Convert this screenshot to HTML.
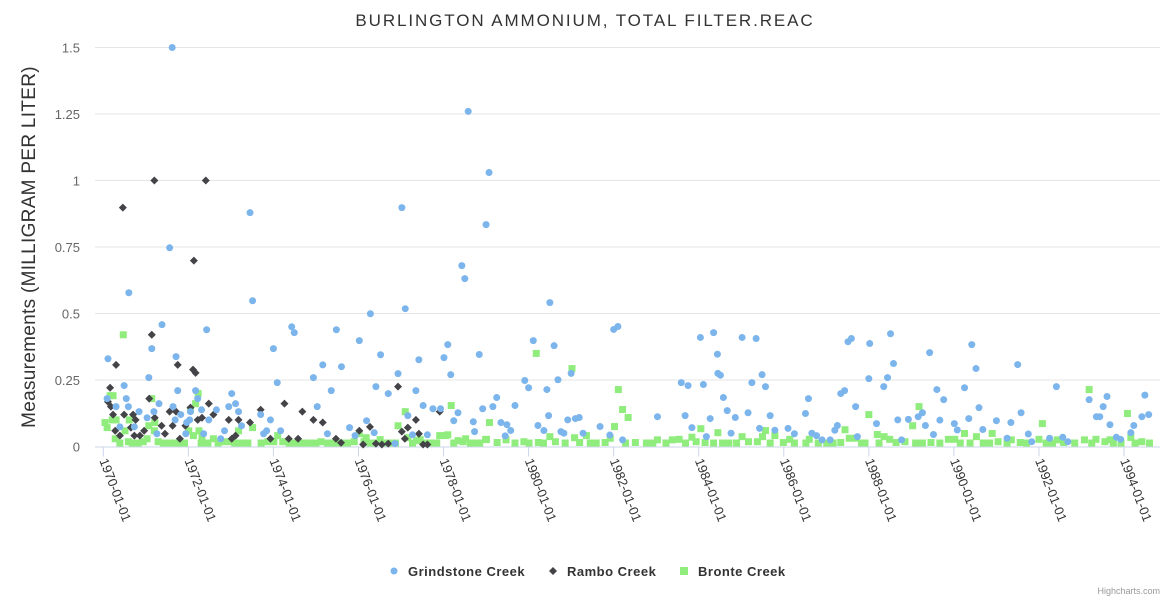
<!DOCTYPE html>
<html><head><meta charset="utf-8"><style>
html,body{margin:0;padding:0;background:#fff;}
svg{display:block;font-family:"Liberation Sans","DejaVu Sans",sans-serif;}
</style></head><body>
<svg id="chart" width="1170" height="600" viewBox="0 0 1170 600">
<text x="585" y="26" text-anchor="middle" font-size="17" letter-spacing="1.9" fill="#333">BURLINGTON AMMONIUM, TOTAL FILTER.REAC</text>
<text transform="translate(35,247) rotate(-90)" text-anchor="middle" font-size="19" letter-spacing="0.3" fill="#333">Measurements (MILLIGRAM PER LITER)</text>
<g id="grid"></g>
<g id="yticks"></g>
<g id="xaxis"></g>
<g id="marks"></g>
<g>
 <g><circle cx="394" cy="571" r="3.5" fill="#7cb5ec"/><text x="408" y="576" font-size="13" font-weight="bold" letter-spacing="0.5" fill="#333">Grindstone Creek</text></g>
 <g><path d="M553 567 L557 571 L553 575 L549 571 Z" fill="#434348"/><text x="567" y="576" font-size="13" font-weight="bold" letter-spacing="0.5" fill="#333">Rambo Creek</text></g>
 <g><rect x="680" y="567" width="8" height="8" fill="#90ed7d"/><text x="698" y="576" font-size="13" font-weight="bold" letter-spacing="0.5" fill="#333">Bronte Creek</text></g>
</g>
<text x="1160" y="594" text-anchor="end" font-size="9" fill="#999">Highcharts.com</text>
</svg>
<script>
const yTicks=[0,0.25,0.5,0.75,1,1.25,1.5];
const yTickLabels=["0","0.25","0.5","0.75","1","1.25","1.5"];
const xTicks=[1970,1972,1974,1976,1978,1980,1982,1984,1986,1988,1990,1992,1994];
const xTickLabels=["1970-01-01","1972-01-01","1974-01-01","1976-01-01","1978-01-01","1980-01-01","1982-01-01","1984-01-01","1986-01-01","1988-01-01","1990-01-01","1992-01-01","1994-01-01"];

const grindYears=[1970.11,1970.09,1970.3,1970.49,1970.54,1970.6,1970.59,1970.39,1970.73,1970.84,1971.03,1971.07,1971.14,1971.19,1971.31,1971.38,1971.26,1971.56,1971.62,1971.64,1971.69,1971.71,1971.75,1971.82,1971.94,1971.96,1972.03,1972.05,1972.17,1972.22,1972.31,1972.36,1972.43,1972.48,1972.66,1972.76,1972.85,1972.95,1973.02,1973.11,1973.18,1973.25,1973.45,1973.51,1973.7,1973.77,1973.84,1973.93,1974.0,1974.09,1974.17,1974.43,1974.49,1974.94,1975.03,1975.16,1975.27,1975.36,1975.48,1975.6,1975.79,1975.92,1976.02,1976.19,1976.28,1976.37,1976.41,1976.52,1976.7,1976.86,1976.93,1977.02,1977.1,1977.16,1977.27,1977.35,1977.42,1977.52,1977.62,1977.75,1977.93,1978.01,1978.1,1978.17,1978.24,1978.34,1978.43,1978.5,1978.58,1978.7,1978.73,1978.84,1978.92,1979.0,1979.07,1979.16,1979.25,1979.35,1979.49,1979.58,1979.45,1979.68,1979.91,1980.0,1980.11,1980.22,1980.36,1980.43,1980.47,1980.5,1980.6,1980.69,1980.76,1980.83,1980.92,1981.0,1981.1,1981.19,1981.28,1981.68,1981.91,1982.0,1982.1,1982.21,1983.03,1983.59,1983.68,1983.75,1983.84,1984.04,1984.11,1984.18,1984.27,1984.35,1984.44,1984.45,1984.51,1984.58,1984.67,1984.76,1984.86,1985.02,1985.16,1985.25,1985.35,1985.43,1985.49,1985.57,1985.68,1985.79,1986.1,1986.25,1986.51,1986.58,1986.66,1986.77,1986.9,1987.09,1987.2,1987.26,1987.34,1987.43,1987.51,1987.59,1987.69,1987.73,1988.0,1988.02,1988.18,1988.35,1988.44,1988.51,1988.58,1988.68,1988.77,1988.93,1989.16,1989.26,1989.33,1989.43,1989.52,1989.6,1989.67,1989.76,1990.01,1990.08,1990.25,1990.35,1990.42,1990.52,1990.59,1990.68,1991.0,1991.25,1991.34,1991.5,1991.58,1991.75,1991.83,1992.25,1992.41,1992.56,1992.68,1993.18,1993.35,1993.43,1993.51,1993.6,1993.67,1993.82,1993.92,1994.16,1994.23,1994.42,1994.49,1994.58];
const grindValues=[0.33,0.18,0.15,0.229,0.18,0.578,0.15,0.074,0.074,0.131,0.108,0.259,0.368,0.131,0.161,0.458,0.048,0.747,1.5,0.15,0.1,0.338,0.21,0.12,0.048,0.09,0.1,0.131,0.21,0.18,0.138,0.048,0.439,0.1,0.138,0.029,0.059,0.15,0.199,0.161,0.131,0.078,0.879,0.548,0.12,0.048,0.059,0.1,0.368,0.24,0.059,0.45,0.428,0.259,0.15,0.307,0.048,0.21,0.439,0.3,0.071,0.041,0.398,0.097,0.499,0.052,0.225,0.345,0.199,0.011,0.274,0.898,0.518,0.116,0.044,0.21,0.326,0.154,0.044,0.142,0.142,0.334,0.383,0.27,0.097,0.127,0.68,0.631,1.26,0.093,0.056,0.346,0.142,0.834,1.03,0.15,0.184,0.09,0.082,0.06,0.04,0.154,0.248,0.221,0.398,0.079,0.06,0.214,0.116,0.541,0.379,0.251,0.056,0.05,0.1,0.275,0.105,0.109,0.05,0.075,0.043,0.44,0.451,0.025,0.112,0.24,0.116,0.229,0.071,0.41,0.233,0.037,0.105,0.428,0.347,0.275,0.268,0.184,0.135,0.05,0.109,0.41,0.127,0.24,0.406,0.068,0.27,0.225,0.116,0.061,0.068,0.048,0.124,0.18,0.05,0.041,0.025,0.025,0.061,0.079,0.199,0.21,0.394,0.406,0.15,0.037,0.255,0.387,0.086,0.225,0.259,0.424,0.312,0.1,0.025,0.102,0.112,0.127,0.079,0.353,0.045,0.214,0.099,0.176,0.086,0.062,0.221,0.105,0.383,0.293,0.146,0.064,0.097,0.031,0.09,0.308,0.127,0.047,0.018,0.031,0.225,0.035,0.018,0.176,0.112,0.112,0.15,0.188,0.082,0.035,0.027,0.052,0.079,0.112,0.193,0.12];

const ramboYears=[1970.46,1971.2,1972.41,1972.13,1971.14,1970.3,1970.16,1970.11,1970.18,1970.23,1970.28,1970.39,1970.49,1970.65,1970.7,1970.76,1970.73,1970.86,1970.96,1971.08,1971.21,1971.37,1971.45,1971.56,1971.71,1971.75,1971.63,1971.8,1971.93,1972.11,1972.17,1972.05,1972.22,1972.32,1972.48,1972.59,1972.95,1973.02,1973.11,1973.18,1973.45,1973.7,1973.93,1974.26,1974.36,1974.58,1974.68,1974.94,1975.16,1975.47,1975.59,1976.02,1976.11,1976.27,1976.41,1976.55,1976.7,1976.93,1977.02,1977.16,1977.09,1977.35,1977.42,1977.52,1977.62,1977.91];
const ramboValues=[0.898,1.0,1.0,0.699,0.42,0.307,0.221,0.168,0.15,0.12,0.059,0.041,0.12,0.071,0.12,0.1,0.041,0.041,0.059,0.18,0.108,0.078,0.048,0.131,0.131,0.307,0.078,0.029,0.078,0.289,0.277,0.146,0.1,0.108,0.161,0.12,0.1,0.029,0.041,0.1,0.09,0.138,0.029,0.161,0.029,0.029,0.131,0.1,0.09,0.029,0.014,0.059,0.003,0.074,0.011,0.003,0.011,0.225,0.056,0.071,0.029,0.1,0.048,0.003,0.003,0.131];

const bronteYears=[1970.47,1970.04,1970.09,1970.16,1970.23,1970.21,1970.3,1970.28,1970.39,1970.51,1970.61,1970.59,1970.68,1970.82,1970.94,1971.03,1971.07,1971.14,1971.2,1971.21,1971.29,1971.41,1971.52,1971.64,1971.76,1971.91,1972.01,1972.05,1972.17,1972.23,1972.12,1972.25,1972.32,1972.3,1972.46,1972.59,1972.7,1972.81,1972.97,1973.09,1973.18,1973.24,1973.4,1973.51,1973.71,1973.87,1974.01,1974.1,1974.22,1974.37,1974.53,1974.69,1974.84,1975.0,1975.12,1975.27,1975.43,1975.59,1975.74,1975.9,1976.02,1976.13,1976.18,1976.27,1976.38,1976.51,1976.6,1976.76,1976.87,1976.93,1977.1,1977.16,1977.27,1977.37,1977.45,1977.54,1977.7,1977.84,1977.91,1978.05,1978.1,1978.18,1978.24,1978.34,1978.46,1978.52,1978.63,1978.73,1978.85,1978.99,
1979.08,1980.18,1981.02,1982.11,1982.21,1982.34,1982.02,1984.05,1985.57,1987.44,1988.0,1988.2,1989.18,1989.03,1990.25,1990.9,1992.08,1993.18,1994.08,1994.16,
1979.01,1979.26,1979.47,1979.68,1979.89,1980.01,1980.23,1980.35,1980.5,1980.63,1980.86,1981.08,1981.2,1981.36,1981.45,1981.59,1981.8,1981.92,1982.28,1982.51,1982.77,1982.92,1983.03,1983.23,1983.38,1983.54,1983.69,1983.84,1983.94,1984.15,1984.35,1984.45,1984.56,1984.71,1984.89,1985.02,1985.17,1985.38,1985.5,1985.68,1985.79,1985.99,1986.14,1986.25,1986.52,1986.6,1986.81,1987.01,1987.16,1987.34,1987.54,1987.69,1987.83,1987.91,1988.24,1988.36,1988.49,1988.64,1988.85,1989.1,1989.26,1989.46,1989.67,1989.87,1990.02,1990.15,1990.38,1990.53,1990.69,1990.84,1991.04,1991.25,1991.35,1991.56,1991.71,1992.0,1992.17,1992.32,1992.43,1992.58,1992.84,1993.07,1993.24,1993.34,1993.55,1993.67,1993.75,1993.93,1994.26,1994.42,1994.6];
const bronteValues=[0.42,0.09,0.071,0.191,0.191,0.1,0.1,0.029,0.011,0.059,0.1,0.018,0.011,0.011,0.018,0.029,0.078,0.18,0.059,0.09,0.018,0.011,0.011,0.011,0.011,0.011,0.059,0.138,0.161,0.199,0.041,0.059,0.037,0.011,0.011,0.029,0.011,0.018,0.018,0.011,0.059,0.011,0.011,0.071,0.011,0.018,0.018,0.041,0.018,0.011,0.011,0.011,0.011,0.011,0.018,0.011,0.011,0.011,0.011,0.018,0.048,0.018,0.033,0.003,0.011,0.026,0.003,0.003,0.003,0.078,0.131,0.033,0.007,0.022,0.026,0.011,0.011,0.011,0.041,0.041,0.044,0.154,0.007,0.022,0.018,0.029,0.011,0.003,0.011,0.026,
0.09,0.35,0.293,0.214,0.139,0.109,0.075,0.067,0.06,0.063,0.12,0.045,0.15,0.078,0.049,0.049,0.086,0.214,0.124,0.034,
0.027,0.015,0.025,0.003,0.018,0.012,0.015,0.012,0.037,0.018,0.01,0.033,0.015,0.041,0.003,0.012,0.015,0.031,0.003,0.015,0.012,0.003,0.025,0.012,0.025,0.027,0.012,0.035,0.018,0.015,0.012,0.052,0.01,0.012,0.003,0.037,0.018,0.018,0.037,0.01,0.041,0.015,0.027,0.006,0.01,0.027,0.01,0.003,0.012,0.015,0.031,0.031,0.012,0.003,0.01,0.037,0.027,0.015,0.018,0.01,0.012,0.015,0.003,0.027,0.027,0.003,0.01,0.037,0.01,0.003,0.018,0.003,0.025,0.015,0.003,0.027,0.003,0.003,0.025,0.015,0.003,0.025,0.003,0.027,0.018,0.025,0.003,0.003,0.003,0.018,0.003];

const NS="http://www.w3.org/2000/svg";
const L=95,R=1160,T=47.5,B=446.5;
const X0=1969.805,X1=1994.846,Y0=0,Y1=1.5;
function xs(v){return L+(v-X0)/(X1-X0)*(R-L);}
function ys(v){return B-(v-Y0)/(Y1-Y0)*(B-T);}
function mk(tag,attrs,parent){const e=document.createElementNS(NS,tag);for(const k in attrs)e.setAttribute(k,attrs[k]);parent.appendChild(e);return e;}

const grid=document.getElementById('grid'),yt=document.getElementById('yticks'),xa=document.getElementById('xaxis'),marks=document.getElementById('marks');
yTicks.forEach((t,i)=>{
  if(t>0){const g=mk('line',{x1:L,x2:R,y1:ys(t),y2:ys(t),stroke:'#e6e6e6','stroke-width':1},grid);
  
  }
  const tx=mk('text',{x:80,y:ys(t)+5,'text-anchor':'end','font-size':'13',fill:'#666'},yt);
  tx.textContent=yTickLabels[i];
  
  
});
const ax=mk('line',{x1:L,x2:R,y1:B+0.5,y2:B+0.5,stroke:'#ccd6eb','stroke-width':1},xa);


xTicks.forEach((t,i)=>{
  const x=xs(t);
  const tk=mk('line',{x1:x,x2:x,y1:B,y2:B+10,stroke:'#ccd6eb'},xa);
  
  
  const tx=mk('text',{transform:'translate('+(x-4)+','+(B+14)+') rotate(69)','font-size':'13',fill:'#333'},xa);
  tx.textContent=xTickLabels[i];
  
  
});
bronteYears.forEach((yr,i)=>{
  const cx=xs(yr),cy=Math.min(ys(bronteValues[i]),B-3.5);
  const r=mk('rect',{x:cx-3.5,y:cy-3.5,width:7,height:7,fill:'#90ed7d'},marks);
  
  
});
ramboYears.forEach((yr,i)=>{
  const cx=xs(yr),cy=Math.min(ys(ramboValues[i]),B-2);
  const p=mk('path',{d:'M'+cx+' '+(cy-4)+' L'+(cx+4)+' '+cy+' L'+cx+' '+(cy+4)+' L'+(cx-4)+' '+cy+' Z',fill:'#434348'},marks);
  
  
});
grindYears.forEach((yr,i)=>{
  const c=mk('circle',{cx:xs(yr),cy:Math.min(ys(grindValues[i]),B-2),r:3.5,fill:'#7cb5ec'},marks);
  
  
});
</script>
</body></html>
